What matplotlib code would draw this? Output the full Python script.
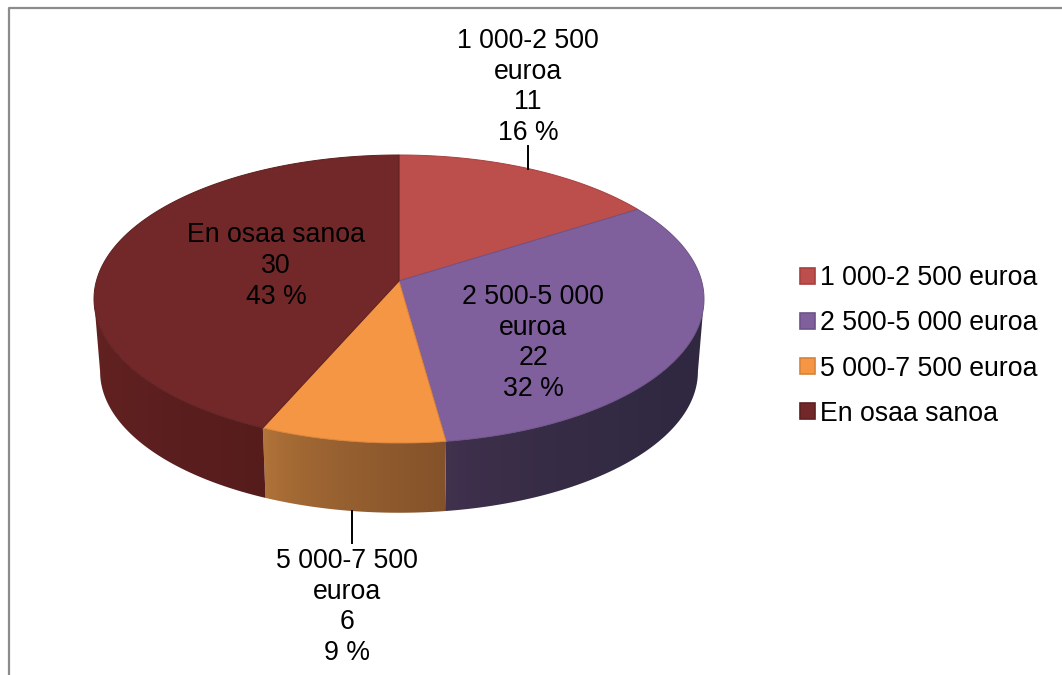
import numpy as np
import matplotlib
matplotlib.use('Agg')
import matplotlib.pyplot as plt
from matplotlib.colors import to_rgb
from matplotlib.patches import Patch, Polygon

plt.rcParams['font.family'] = ['Liberation Sans', 'DejaVu Sans']

categories = ['1 000-2 500 euroa', '2 500-5 000 euroa', '5 000-7 500 euroa', 'En osaa sanoa']
values = [11, 22, 6, 30]

top_colors = ['#bc4f4c', '#7f609c', '#f59645', '#722828']
edge_colors = ['#a8403e', '#6d5288', '#d98238', '#5e2020']
side_left = ['#8a3836', '#42324f', '#b4763a', '#642222']
side_right = ['#8a3836', '#2f2840', '#84522a', '#561c1c']

# label centres and leader lines, in pixels
label_pos = [(528, 87), (533, 343), (347, 607), (276, 266)]
leaders = [((528, 146), (528, 169)), ((352, 511), (352, 543))]

# pie geometry, in pixels: the far side of the disc is squeezed by perspective
cx, cy = 399, 281
rx, ry = 302.6, 141.75
persp = 0.125
depth = 73
base_scale = 0.98
font_size = 19.15


def project(theta, scale=1.0, drop=0.0):
    # theta is measured clockwise from the top of the pie
    x = np.sin(theta)
    y = np.cos(theta)
    w = 1 + persp * y
    return cx + scale * rx * x / w, cy + drop - scale * ry * y / w


fig = plt.figure(figsize=(10.62, 6.75), dpi=100)
ax = fig.add_axes([0, 0, 1, 1])

# chart frame, cut off by the image on the right and at the bottom
ax.plot([8.5, 8.5, 1062], [675, 7.5, 7.5], color='#8c8c8c', lw=1.6, zorder=1)

total = sum(values)
bounds = 2 * np.pi * np.concatenate([[0], np.cumsum(values)]) / total

# side wall: a horizontal gradient clipped to the visible part of each slice
for i in range(len(values)):
    ts = np.linspace(bounds[i], bounds[i + 1], 600)
    ts = ts[np.cos(ts) < -persp]  # widest point of the disc
    if len(ts) < 2:
        continue
    tx, ty = project(ts)
    bx, by = project(ts, base_scale, depth)
    pts = np.column_stack([np.r_[tx, bx[::-1]], np.r_[ty, by[::-1]]])
    wall = Polygon(pts, closed=True, facecolor='none', edgecolor='none', transform=ax.transData)
    ax.add_patch(wall)

    f = np.linspace(0, 1, 256) ** 0.6
    left = np.array(to_rgb(side_left[i]))
    right = np.array(to_rgb(side_right[i]))
    grad = (1 - f)[:, None] * left + f[:, None] * right
    im = ax.imshow(grad[None, :, :], extent=(pts[:, 0].min(), pts[:, 0].max(), pts[:, 1].max(), pts[:, 1].min()),
                   aspect='auto', interpolation='bilinear', zorder=2)
    im.set_clip_path(wall)

# top of the pie
for i in range(len(values)):
    ts = np.linspace(bounds[i], bounds[i + 1], 200)
    px, py = project(ts)
    pts = np.column_stack([np.r_[cx, px], np.r_[cy, py]])
    ax.add_patch(Polygon(pts, closed=True, facecolor=top_colors[i], edgecolor=edge_colors[i],
                         lw=0.7, zorder=3))

for start, end in leaders:
    ax.plot([start[0], end[0]], [start[1], end[1]], color='black', lw=1.4, zorder=4)

for i in range(len(values)):
    first, second = categories[i].rsplit(' ', 1) if 'euroa' in categories[i] else (categories[i], None)
    lines = [first] + ([second] if second else [])
    lines += [str(values[i]), '%d %%' % round(100 * values[i] / total)]
    ax.text(label_pos[i][0], label_pos[i][1], '\n'.join(lines), ha='center', va='center',
            fontsize=font_size, linespacing=1.23, color='black', zorder=5)

ax.set_xlim(0, 1062)
ax.set_ylim(675, 0)
ax.axis('off')

handles = [Patch(facecolor=top_colors[i], edgecolor=edge_colors[i], lw=1.2) for i in range(len(values))]
ax.legend(handles, categories, loc='center left', bbox_to_anchor=(800, 346),
          bbox_transform=ax.transData, frameon=False, fontsize=font_size,
          handlelength=0.55, handleheight=0.55, handletextpad=0.2, labelspacing=0.72,
          borderpad=0, borderaxespad=0)

fig.savefig('out.png', dpi=100)
